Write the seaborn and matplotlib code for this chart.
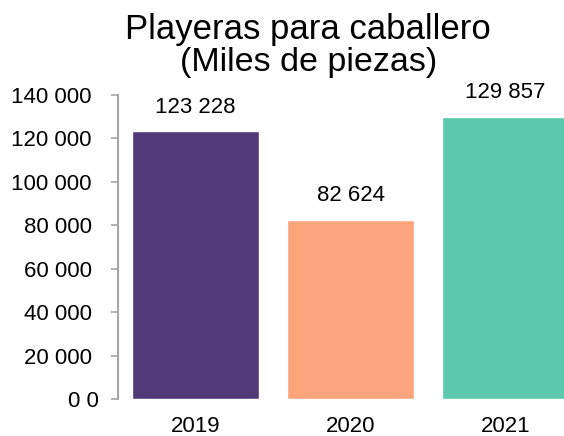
import matplotlib
matplotlib.use("Agg")
import matplotlib.pyplot as plt
import matplotlib.transforms as mtransforms
import seaborn as sns
import pandas as pd

years = ["2019", "2020", "2021"]
values = [123228, 82624, 129857]
colors = ["#523A78", "#FCA47C", "#5CC9AF"]
ytick_values = [0, 20000, 40000, 60000, 80000, 100000, 120000, 140000]
ytick_labels = ["0 0", "20 000", "40 000", "60 000", "80 000", "100 000", "120 000", "140 000"]
title = "Playeras para caballero"
subtitle = "(Miles de piezas)"

sns.set_theme(style="white")
plt.rcParams["font.family"] = ["Liberation Sans", "DejaVu Sans"]

df = pd.DataFrame({"year": years, "value": values})

fig = plt.figure(figsize=(5.64, 4.36), dpi=100)
ax = fig.add_axes([118/564, 1 - 399/436, 1 - 118/564, (399 - 95)/436])
sns.barplot(data=df, x="year", y="value", hue="year", palette=colors,
            width=0.82, legend=False, ax=ax, saturation=1)

ax.set_ylim(0, 140000)
ax.set_xlim(-0.5, 2.377)
ax.set_yticks(ytick_values)
ax.set_yticklabels(ytick_labels, fontsize=16, color="black")
ax.tick_params(axis="y", length=5, width=1.2, color="#A6A6A6", pad=14, left=True)
ax.tick_params(axis="x", length=0, labelsize=16, labelcolor="black", pad=12)
ax.set_xlabel("")
ax.set_ylabel("")
for s in ["top", "right", "bottom"]:
    ax.spines[s].set_visible(False)
ax.spines["left"].set_color("#A6A6A6")
ax.spines["left"].set_linewidth(1.5)

# the "0 0" label sits a little further right in the reference
zero_lbl = ax.get_yticklabels()[0]
zero_lbl.set_transform(zero_lbl.get_transform() +
                       mtransforms.ScaledTranslation(7/100, 0, fig.dpi_scale_trans))

for i, v in enumerate(values):
    lbl = f"{v:,}".replace(",", " ")
    ax.annotate(lbl, xy=(i, v), xytext=(0, 10), textcoords="offset points",
                ha="center", va="bottom", fontsize=16, color="black")

fig.text(0.545, 1 - 30/436, title, ha="center", va="center", fontsize=25, color="black")
fig.text(0.547, 1 - 62/436, subtitle, ha="center", va="center", fontsize=24.5, color="black")

fig.savefig("out.png", dpi=100)
